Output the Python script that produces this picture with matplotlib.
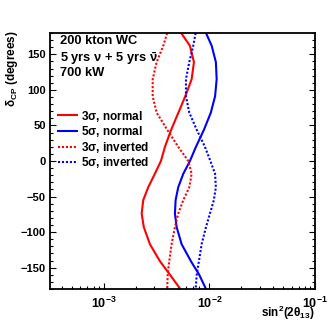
import matplotlib
matplotlib.use("Agg")
import matplotlib.pyplot as plt
import numpy as np
from matplotlib.ticker import FixedLocator, LogLocator, NullFormatter, MultipleLocator

plt.rcParams['font.family'] = ['Liberation Sans', 'DejaVu Sans']
plt.rcParams['font.weight'] = 'bold'
plt.rcParams['mathtext.fontset'] = 'custom'
plt.rcParams['mathtext.rm'] = 'Liberation Sans:bold'
plt.rcParams['mathtext.bf'] = 'Liberation Sans:bold'
plt.rcParams['mathtext.it'] = 'Liberation Sans:bold'
plt.rcParams['mathtext.sf'] = 'Liberation Sans:bold'
plt.rcParams['mathtext.default'] = 'bf'

# delta_CP sample points (degrees), shared by all curves
delta_cp = [180, 162, 139, 115, 91, 68, 44, 20, 0, -18, -37, -55, -74, -93, -117, -141, -160, -180]

# sin^2(2 theta13) sensitivity
s3_normal = [5.4e-3, 6.53e-3, 7.13e-3, 6.78e-3, 5.90e-3, 5.08e-3, 4.34e-3, 3.79e-3, 3.47e-3,
             3.04e-3, 2.63e-3, 2.36e-3, 2.28e-3, 2.39e-3, 2.73e-3, 3.40e-3, 4.23e-3, 5.3e-3]
s5_normal = [9.27e-3, 1.05e-2, 1.15e-2, 1.17e-2, 1.13e-2, 1.03e-2, 8.87e-3, 7.45e-3, 6.53e-3,
             5.65e-3, 5.06e-3, 4.78e-3, 4.71e-3, 4.89e-3, 5.45e-3, 6.68e-3, 8.0e-3, 9.27e-3]
s3_inverted = [3.98e-3, 3.65e-3, 3.16e-3, 2.90e-3, 2.90e-3, 3.16e-3, 3.98e-3, 5.06e-3, 6.3e-3,
               6.78e-3, 6.44e-3, 5.65e-3, 5.06e-3, 4.71e-3, 4.38e-3, 4.16e-3, 4.02e-3, 3.98e-3]
s5_inverted = [7.40e-3, 7.02e-3, 6.44e-3, 5.99e-3, 5.99e-3, 6.44e-3, 7.57e-3, 9.06e-3, 1.02e-2,
               1.13e-2, 1.15e-2, 1.10e-2, 1.01e-2, 9.27e-3, 8.43e-3, 7.94e-3, 7.57e-3, 7.40e-3]

labels = [r'3$\sigma$, normal', r'5$\sigma$, normal', r'3$\sigma$, inverted', r'5$\sigma$, inverted']
xtick_vals = [1e-3, 1e-2, 1e-1]
xtick_labels = [r'$10^{-3}$', r'$10^{-2}$', r'$10^{-1}$']

fig = plt.figure(figsize=(3.32, 3.22), dpi=100)
ax = fig.add_axes([0.1506, 0.1025, 0.7984, 0.795])

dot = (0, (1.0, 0.9))
ax.plot(s3_normal, delta_cp, color='#ff0000', lw=1.5, label=labels[0])
ax.plot(s5_normal, delta_cp, color='#0000ff', lw=1.5, label=labels[1])
ax.plot(s3_inverted, delta_cp, color='#ff0000', lw=1.5, linestyle=dot, label=labels[2])
ax.plot(s5_inverted, delta_cp, color='#0000ff', lw=1.5, linestyle=dot, label=labels[3])

ax.set_xscale('log')
ax.set_xlim(10 ** -3.51, 1e-1)
ax.set_ylim(-180, 180)

ax.xaxis.set_major_locator(FixedLocator(xtick_vals))
ax.set_xticklabels(xtick_labels)
ax.xaxis.set_minor_locator(LogLocator(base=10, subs=np.arange(2, 10)))
ax.xaxis.set_minor_formatter(NullFormatter())
ax.yaxis.set_major_locator(MultipleLocator(50))
ax.yaxis.set_minor_locator(MultipleLocator(10))

ax.tick_params(which='both', direction='in', top=False, right=True, width=0.8, labelsize=8)
ax.tick_params(which='major', length=4.5, pad=3)
ax.tick_params(which='minor', length=2.3)
ax.tick_params(axis='x', which='major', pad=5, labelsize=9)
for sp in ax.spines.values():
    sp.set_linewidth(1.3)

fig.text(12 / 332, 1 - 30 / 322, r'$\delta_{CP}$ (degrees)', rotation=90,
         ha='center', va='top', fontsize=8.5)
fig.text(315 / 332, 1 - 313 / 322, r'sin$^{2}$(2$\theta_{13}$)', ha='right', va='center',
         fontsize=8.5)

def px(xp, yp):
    return (xp / 332, 1 - yp / 322)

fig.text(*px(60, 41), '200 kton WC', fontsize=9.3, va='center')
fig.text(*px(60, 62), r'5 yrs $\nu$ + 5 yrs $\bar{\nu}$', fontsize=9.3, va='baseline')
fig.text(*px(60, 76), '700 kW', fontsize=9.3, va='baseline')

ax.legend(loc='upper left', bbox_to_anchor=(0.0, 0.737), frameon=False, fontsize=8.5,
          handlelength=1.55, handletextpad=0.35, labelspacing=0.05, borderaxespad=0.3)

fig.savefig('out.png', dpi=100)
